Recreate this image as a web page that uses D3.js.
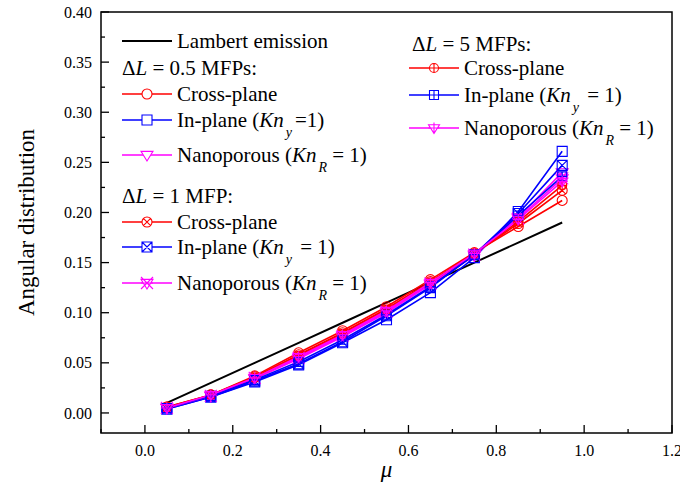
<!DOCTYPE html>
<html><head><meta charset="utf-8">
<script src="https://cdn.jsdelivr.net/npm/d3@7"></script>
<style>body{margin:0;background:#fff}svg{display:block}</style>
</head><body>
<svg id="c" width="680" height="488"></svg>
<script>
const mu = [0.05,0.15,0.25,0.35,0.45,0.55,0.65,0.75,0.85,0.95];
const lambert   = [0.010,0.030,0.050,0.070,0.090,0.110,0.130,0.150,0.170,0.190];
const cross05   = [0.006,0.018,0.037,0.060,0.082,0.106,0.133,0.160,0.186,0.212];
const inplane05 = [0.004,0.016,0.031,0.048,0.070,0.093,0.120,0.155,0.201,0.261];
const nano05    = [0.005,0.017,0.034,0.054,0.076,0.100,0.128,0.157,0.195,0.240];
const cross1    = [0.006,0.018,0.036,0.058,0.080,0.104,0.131,0.159,0.189,0.222];
const inplane1  = [0.004,0.016,0.032,0.049,0.071,0.097,0.125,0.158,0.199,0.247];
const nano1     = [0.005,0.017,0.035,0.055,0.077,0.101,0.129,0.158,0.194,0.234];
const cross5    = [0.005,0.018,0.035,0.057,0.079,0.103,0.130,0.159,0.191,0.227];
const inplane5  = [0.005,0.017,0.033,0.051,0.073,0.098,0.126,0.158,0.197,0.236];
const nano5     = [0.005,0.018,0.035,0.056,0.078,0.102,0.130,0.159,0.193,0.231];
const xTicks = [0.0,0.2,0.4,0.6,0.8,1.0,1.2];
const yTicks = [0.00,0.05,0.10,0.15,0.20,0.25,0.30,0.35,0.40];

const RED="#ff0000", BLUE="#0000ff", MAG="#ff00ff";
const series = [
  {v:cross05, c:RED, m:"circle"},
  {v:inplane05, c:BLUE, m:"square"},
  {v:nano05, c:MAG, m:"tri"},
  {v:cross1, c:RED, m:"circleX"},
  {v:inplane1, c:BLUE, m:"squareX"},
  {v:nano1, c:MAG, m:"triX"},
  {v:cross5, c:RED, m:"circleP"},
  {v:inplane5, c:BLUE, m:"squareP"},
  {v:nano5, c:MAG, m:"triP"}
];

const svg = d3.select("#c");
const L=101, R=672, T=12, B=433;
const x = d3.scaleLinear().domain([-0.1,1.2]).range([L,R]);
const y = d3.scaleLinear().domain([-0.02,0.40]).range([B,T]);

function markerPath(type, cx, cy){
  const p = d3.path();
  const big = !/P$/.test(type);
  const r = big ? 5 : 4.5;
  if(type.startsWith("circle")){
    p.moveTo(cx+r,cy); p.arc(cx,cy,r,0,2*Math.PI);
    if(type==="circleX"){const d=r*0.72;p.moveTo(cx-d,cy-d);p.lineTo(cx+d,cy+d);p.moveTo(cx+d,cy-d);p.lineTo(cx-d,cy+d);}
    if(type==="circleP"){p.moveTo(cx-r,cy);p.lineTo(cx+r,cy);p.moveTo(cx,cy-r);p.lineTo(cx,cy+r);}
  } else if(type.startsWith("square")){
    p.rect(cx-r,cy-r,2*r,2*r);
    if(type==="squareX"){p.moveTo(cx-r,cy-r);p.lineTo(cx+r,cy+r);p.moveTo(cx+r,cy-r);p.lineTo(cx-r,cy+r);}
    if(type==="squareP"){p.moveTo(cx-r,cy);p.lineTo(cx+r,cy);p.moveTo(cx,cy-r);p.lineTo(cx,cy+r);}
  } else {
    const rr = r+1;
    p.moveTo(cx-rr,cy-rr*0.6); p.lineTo(cx+rr,cy-rr*0.6); p.lineTo(cx,cy+rr); p.closePath();
    if(type==="triX"){p.moveTo(cx-rr,cy-rr);p.lineTo(cx+rr,cy+rr);p.moveTo(cx+rr,cy-rr);p.lineTo(cx-rr,cy+rr);p.moveTo(cx-rr,cy);p.lineTo(cx+rr,cy);}
    if(type==="triP"){p.moveTo(cx-rr,cy);p.lineTo(cx+rr,cy);p.moveTo(cx,cy-rr);p.lineTo(cx,cy+rr);}
  }
  return p.toString();
}

const g = svg.append("g");
const yMinor = d3.range(0,0.401,0.025);
const xMinor = d3.range(-0.1,1.201,0.1);
g.selectAll(".ym").data(yMinor).enter().append("line")
  .attr("x1",L).attr("x2",(d)=>L+((Math.round(d*1000)%50===0)?8:4))
  .attr("y1",d=>y(d)).attr("y2",d=>y(d)).attr("stroke","#000").attr("stroke-width",1.3);
g.selectAll(".xm").data(xMinor).enter().append("line")
  .attr("x1",d=>x(d)).attr("x2",d=>x(d)).attr("y1",B)
  .attr("y2",d=>B-((Math.round(d*10)%2===0)?8:4)).attr("stroke","#000").attr("stroke-width",1.3);
g.append("rect").attr("x",L).attr("y",T).attr("width",R-L).attr("height",B-T)
  .attr("fill","none").attr("stroke","#000").attr("stroke-width",1.5);
g.selectAll(".yl").data(yTicks).enter().append("text")
  .attr("x",L-9).attr("y",d=>y(d)).attr("dy","0.35em").attr("text-anchor","end")
  .attr("font-size",16).text(d=>d3.format(".2f")(d));
g.selectAll(".xl").data(xTicks).enter().append("text")
  .attr("x",d=>x(d)).attr("y",B+23).attr("text-anchor","middle")
  .attr("font-size",16).text(d=>d3.format(".1f")(d));
svg.append("text").attr("transform",`translate(34,${(T+B)/2}) rotate(-90)`)
  .attr("text-anchor","middle").attr("font-size",23).text("Angular distribution");
svg.append("text").attr("x",(L+R)/2).attr("y",477).attr("text-anchor","middle")
  .attr("font-size",23).attr("font-style","italic").text("μ");

const line = d3.line().x((d,i)=>x(mu[i])).y(d=>y(d));
svg.append("path").datum(lambert).attr("d",line).attr("fill","none").attr("stroke","#000").attr("stroke-width",2);
series.forEach(s=>{
  svg.append("path").datum(s.v).attr("d",line).attr("fill","none").attr("stroke",s.c).attr("stroke-width",1.6);
});
series.forEach(s=>{
  svg.append("g").selectAll("path").data(s.v).enter().append("path")
    .attr("d",(d,i)=>markerPath(s.m,x(mu[i]),y(d)))
    .attr("fill","none").attr("stroke",s.c).attr("stroke-width",1.1);
});

const FS=21;
function legRow(x0, yc, color, marker, parts){
  svg.append("line").attr("x1",x0).attr("x2",x0+50).attr("y1",yc).attr("y2",yc)
    .attr("stroke",color).attr("stroke-width",color==="#000"?2:1.6);
  if(marker) svg.append("path").attr("d",markerPath(marker,x0+25,yc)).attr("fill","#fff").attr("stroke",color).attr("stroke-width",1.1);
  const t = svg.append("text").attr("x",x0+55).attr("y",yc).attr("dy","0.35em").attr("font-size",FS);
  parts.forEach(p=>{
    const ts = t.append("tspan").text(p.t);
    if(p.i) ts.attr("font-style","italic");
    if(p.sub){ts.attr("font-size",14).attr("dy",10).attr("dx",2);}
    if(p.back){ts.attr("dy",-10).attr("dx",p.dx||0);}
  });
}
function head(x0, yc, num){
  const t = svg.append("text").attr("x",x0).attr("y",yc).attr("dy","0.35em").attr("font-size",FS);
  t.append("tspan").text("Δ");
  t.append("tspan").attr("font-style","italic").text("L");
  t.append("tspan").text(" = "+num);
}
const inpl = (sub, rest)=>[{t:"In-plane ("},{t:"Kn",i:1},{t:sub,i:1,sub:1},{t:rest,back:1,dx:3}];
const nanp = [{t:"Nanoporous ("},{t:"Kn",i:1},{t:"R",i:1,sub:1},{t:" = 1)",back:1}];

legRow(122,41,"#000",null,[{t:"Lambert emission"}]);
head(122,68,"0.5 MFPs:");
legRow(122,94,RED,"circle",[{t:"Cross-plane"}]);
legRow(122,120,BLUE,"square",inpl("y","=1)"));
legRow(122,155,MAG,"tri",nanp);
head(122,196,"1 MFP:");
legRow(122,222,RED,"circleX",[{t:"Cross-plane"}]);
legRow(122,247,BLUE,"squareX",inpl("y"," = 1)"));
legRow(122,283,MAG,"triX",nanp);
head(412,44,"5 MFPs:");
legRow(409,68,RED,"circleP",[{t:"Cross-plane"}]);
legRow(409,95,BLUE,"squareP",inpl("y"," = 1)"));
legRow(409,128,MAG,"triP",nanp);

svg.selectAll("text").style("font-family",'"Liberation Serif"');
</script>
</body></html>
